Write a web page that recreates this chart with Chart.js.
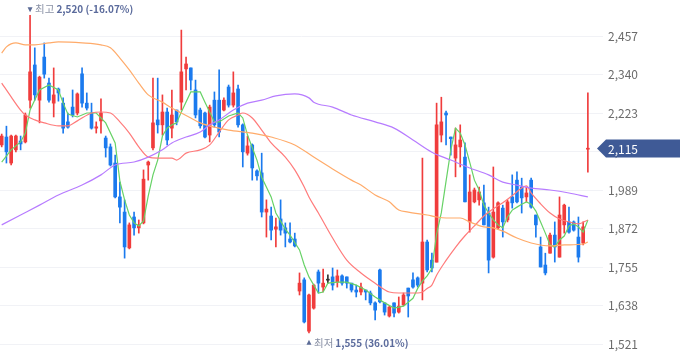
<!DOCTYPE html>
<html><head><meta charset="utf-8">
<style>html,body{margin:0;padding:0;background:#fff;overflow:hidden}canvas{display:block}</style>
<script src="https://cdn.jsdelivr.net/npm/chart.js@4.4.1/dist/chart.umd.min.js"></script>
</head><body>
<canvas id="c" width="680" height="358"></canvas>
<script>
const opens = [2126,2150,2071,2111,2138,2135,2262,2369,2262,2393,
2314,2253,2296,2253,2196,2241,2223,2342,2253,2223,
2177,2199,2147,2120,2071,1968,1922,1813,1907,1874,
1889,2065,2117,2202,2187,2226,2177,2232,2256,2357,
2360,2293,2232,2223,2156,2262,2262,2232,2302,2247,
2296,2187,2101,2126,2047,2041,1922,1910,1870,1901,
1874,1840,1840,1682,1716,1560,1630,1740,1694,1715,
1725,1709,1728,1725,1706,1685,1679,1685,1676,1646,
1746,1646,1606,1646,1618,1640,1691,1716,1722,1706,
1831,1776,1770,2156,2223,2150,2086,2120,2089,1892,
1953,1959,1950,1919,1785,1874,1934,1898,1968,2019,
1998,1968,2019,1913,1816,1761,1797,1852,1785,1883,
1892,1892,1846,1828,2113];
const highs = [2159,2183,2156,2156,2153,2223,2520,2421,2335,2436,
2329,2360,2299,2269,2223,2293,2284,2360,2284,2253,
2196,2266,2153,2129,2095,2013,1959,1889,1922,1898,
2050,2077,2329,2329,2278,2238,2293,2232,2475,2393,
2360,2323,2238,2226,2247,2287,2354,2269,2308,2348,
2308,2190,2153,2129,2050,2101,1959,1937,1904,1959,
1889,1889,1858,1737,1722,1673,1703,1746,1749,1731,
1752,1746,1731,1725,1706,1700,1706,1685,1682,1649,
1749,1646,1636,1646,1664,1676,1691,1737,1725,2086,
1837,1797,2253,2271,2229,2150,2177,2187,2132,2035,
1995,1998,2004,1937,2059,1953,1943,1959,2035,2044,
2025,1998,2025,1913,1846,1797,1858,1892,1968,1946,
1937,1895,1907,1892,2284];
const lows = [2120,2071,2065,2105,2111,2132,2238,2262,2193,2329,
2256,2211,2259,2162,2177,2211,2217,2241,2232,2174,
2162,2162,2089,2062,1965,1889,1782,1810,1852,1858,
1886,2019,2111,2162,2156,2126,2147,2187,2232,2293,
2293,2208,2177,2147,2135,2180,2150,2229,2241,2241,
2180,2059,2095,2019,2019,1907,1846,1837,1816,1852,
1816,1828,1816,1670,1585,1555,1627,1676,1679,1706,
1685,1694,1700,1691,1679,1664,1670,1655,1640,1594,
1646,1609,1603,1603,1615,1637,1603,1691,1694,1655,
1740,1740,1770,2135,2126,2095,2029,2059,1953,1861,
1950,1943,1883,1737,1782,1870,1846,1892,1934,1950,
1919,1953,1934,1846,1755,1731,1797,1770,1785,1858,
1858,1864,1770,1822,2043];
const closes = [2153,2105,2153,2153,2129,2217,2348,2278,2332,2341,
2262,2278,2284,2177,2180,2217,2281,2253,2238,2177,
2181,2223,2117,2065,1968,1937,1816,1883,1874,1883,
2022,2074,2193,2187,2226,2141,2217,2196,2348,2372,
2323,2217,2184,2150,2241,2187,2165,2262,2247,2284,
2187,2105,2123,2056,2032,1922,1931,1867,1877,1867,
1858,1831,1819,1706,1588,1670,1700,1706,1706,1715,
1700,1728,1706,1706,1685,1679,1694,1679,1646,1624,
1649,1618,1633,1615,1636,1670,1667,1694,1700,1831,
1746,1752,2187,2196,2217,2145,2126,2141,1953,1983,
1989,1983,1883,1776,1922,1950,1892,1953,1950,1953,
1965,1980,1937,1883,1755,1737,1852,1816,1913,1943,
1861,1867,1785,1877,2115];

const ma5Idx = [0,2,4,5,6,8,10,12,13,14,16,18,20,22,24,25,26,27,28,29,30,31,32,33,34,35,36,37,38,40,42,43,45,46,48,50,51,52,54,55,57,58,60,61,63,64,65,67,68,69,71,73,75,77,79,81,83,85,87,88,89,90,91,92,93,94,95,96,97,98,99,100,101,102,103,104,105,106,107,108,109,110,111,112,113,114,115,116,117,118,119,120,121,122,123,124];
const ma5Val = [2074,2111,2135,2162,2232,2293,2308,2293,2253,2220,2211,2223,2223,2193,2132,2016,1959,1913,1889,1880,1895,1971,2035,2080,2153,2177,2187,2193,2226,2287,2287,2256,2196,2196,2214,2223,2208,2156,2080,2028,1968,1919,1870,1852,1807,1761,1725,1676,1679,1706,1709,1709,1700,1685,1664,1646,1630,1636,1660,1690,1712,1728,1750,1855,1920,2016,2110,2177,2162,2126,2074,2019,1989,1943,1919,1898,1883,1874,1907,1928,1937,1946,1953,1946,1925,1892,1858,1822,1816,1837,1849,1880,1886,1877,1861,1898];
const ma20Idx = [0,2,4,5,7,9,12,14,16,19,21,23,25,27,29,31,33,36,37,39,42,44,46,48,50,51,53,55,57,60,62,64,65,67,70,73,76,79,82,84,86,88,89,90,91,92,94,96,98,100,102,104,106,108,110,111,112,114,116,118,120,122,124];
const ma20Val = [2314,2272,2232,2217,2202,2193,2184,2184,2199,2223,2226,2223,2196,2162,2120,2089,2086,2086,2080,2101,2111,2126,2165,2202,2217,2223,2208,2171,2132,2089,2050,1998,1968,1919,1843,1776,1737,1706,1679,1676,1676,1676,1679,1690,1700,1730,1775,1815,1850,1880,1910,1932,1950,1972,1995,2002,1980,1947,1919,1901,1892,1886,1898];
const ma60Idx = [0,1,3,5,7,10,12,17,21,23,25,27,29,31,34,36,38,40,42,45,48,53,57,62,66,70,74,76,79,82,84,86,90,92,94,97,99,102,104,106,109,112,116,119,123,124];
const ma60Val = [2405,2424,2436,2430,2430,2436,2439,2436,2430,2421,2390,2354,2314,2278,2256,2238,2223,2208,2193,2180,2171,2162,2150,2126,2089,2053,2019,2004,1974,1953,1928,1922,1913,1907,1904,1904,1892,1877,1874,1864,1843,1828,1819,1822,1825,1831];
const ma120Idx = [0,4,8,12,17,21,24,28,31,34,36,39,42,44,46,49,52,55,58,62,65,66,70,74,79,83,87,91,95,99,103,106,109,112,116,120,124];
const ma120Val = [1883,1913,1943,1974,2004,2035,2065,2074,2089,2111,2132,2150,2165,2187,2202,2232,2253,2262,2275,2281,2269,2256,2241,2217,2196,2177,2141,2104,2080,2056,2035,2013,2004,1995,1989,1980,1968];

const yTicks = [1521,1638,1755,1872,1989,2106,2223,2340,2457];
const hiWord = '최고';
const loWord = '최저';

const UP = '#f03c3c', DOWN = '#1b7aee', FLAT = '#333333';
const candleColors = opens.map((o, i) => closes[i] > o ? UP : (closes[i] < o ? DOWN : FLAT));
const idx = opens.map((_, i) => i);
const pts = (xs, ys) => xs.map((x, k) => ({x, y: ys[k]}));
const FONT = '"Noto Sans CJK KR", "Noto Sans", sans-serif';

const overlay = {
  id: 'overlay',
  afterDraw(chart) {
    const ctx = chart.ctx, xs = chart.scales.x, ys = chart.scales.y, area = chart.chartArea;
    const last = closes[closes.length - 1];
    const hi = Math.max(...highs), hiI = highs.indexOf(hi);
    const lo = Math.min(...lows), loI = lows.indexOf(lo);
    const fmt = v => v.toLocaleString('en-US');
    const pct = v => '(' + ((last / v - 1) * 100).toFixed(2) + '%)';
    const mark = (i, v, up, word) => {
      const x = xs.getPixelForValue(i);
      const y = ys.getPixelForValue(v) + (up ? 10 : -6);
      ctx.save();
      ctx.fillStyle = '#5b6b96';
      ctx.beginPath();
      if (up) { ctx.moveTo(x, y - 3); ctx.lineTo(x + 2.5, y + 2); ctx.lineTo(x - 2.5, y + 2); }
      else { ctx.moveTo(x - 2.5, y - 2); ctx.lineTo(x + 2.5, y - 2); ctx.lineTo(x, y + 3); }
      ctx.closePath(); ctx.fill();
      ctx.textBaseline = 'middle'; ctx.textAlign = 'left';
      ctx.font = '10.5px ' + FONT;
      ctx.fillStyle = '#8a91a5';
      ctx.fillText(word, x + 5, y);
      const w = ctx.measureText(word).width;
      ctx.font = 'bold 10px ' + FONT;
      ctx.fillStyle = '#5b6b9c';
      ctx.fillText(fmt(v) + ' ' + pct(v), x + 7 + w, y);
      ctx.restore();
    };
    mark(hiI, hi, false, hiWord);
    mark(loI, lo, true, loWord);
    const py = ys.getPixelForValue(last);
    ctx.save();
    ctx.fillStyle = '#3f5a96';
    ctx.beginPath();
    ctx.moveTo(area.right - 6, py);
    ctx.lineTo(area.right + 3, py - 9);
    ctx.lineTo(chart.width, py - 9);
    ctx.lineTo(chart.width, py + 9);
    ctx.lineTo(area.right + 3, py + 9);
    ctx.closePath(); ctx.fill();
    ctx.fillStyle = '#ffffff';
    ctx.font = '12px ' + FONT;
    ctx.textBaseline = 'middle'; ctx.textAlign = 'left';
    ctx.fillText(fmt(last), area.right + 5, py + 0.5);
    ctx.restore();
  }
};

const lineDs = (label, xs, ys, color, tension) => ({
  type: 'line', label, data: pts(xs, ys), borderColor: color, borderWidth: 1.2,
  pointRadius: 0, fill: false, tension, cubicInterpolationMode: tension ? 'monotone' : 'default', order: 0
});

new Chart(document.getElementById('c'), {
  data: {
    datasets: [
      lineDs('MA120', ma120Idx, ma120Val, '#b77cff', 0.4),
      lineDs('MA60', ma60Idx, ma60Val, '#ffab6a', 0.4),
      lineDs('MA20', ma20Idx, ma20Val, '#ff7b7b', 0.4),
      lineDs('MA5', ma5Idx, ma5Val, '#67d266', 0),
      { type: 'bar', label: 'body', data: idx.map(i => ({x: i, y: [opens[i], closes[i]]})),
        backgroundColor: candleColors, borderWidth: 0, grouped: false, maxBarThickness: 3,
        categoryPercentage: 1, barPercentage: 1, minBarLength: 1, order: 1 },
      { type: 'bar', label: 'wick', data: idx.map(i => ({x: i, y: [lows[i], highs[i]]})),
        backgroundColor: candleColors, borderWidth: 0, grouped: false, maxBarThickness: 1,
        categoryPercentage: 1, barPercentage: 1, order: 2 }
    ]
  },
  options: {
    responsive: false, animation: false, devicePixelRatio: 1, events: [],
    layout: { padding: 0 },
    plugins: { legend: { display: false }, tooltip: { enabled: false } },
    scales: {
      x: { type: 'linear', display: false, min: -0.36, max: 127.2, offset: false },
      y: {
        position: 'right', min: 1478.5, max: 2566.4,
        afterBuildTicks: s => { s.ticks = yTicks.map(v => ({value: v})); },
        afterFit: s => { s.width = 77; s.paddingTop = 0; s.paddingBottom = 0; },
        grid: { color: '#f1f2f6', drawTicks: false },
        border: { display: false },
        ticks: { padding: 5, color: '#6b6b6b', font: { size: 12, family: FONT },
          callback: v => Number(v).toLocaleString('en-US') }
      }
    }
  },
  plugins: [overlay]
});
</script>
</body></html>
